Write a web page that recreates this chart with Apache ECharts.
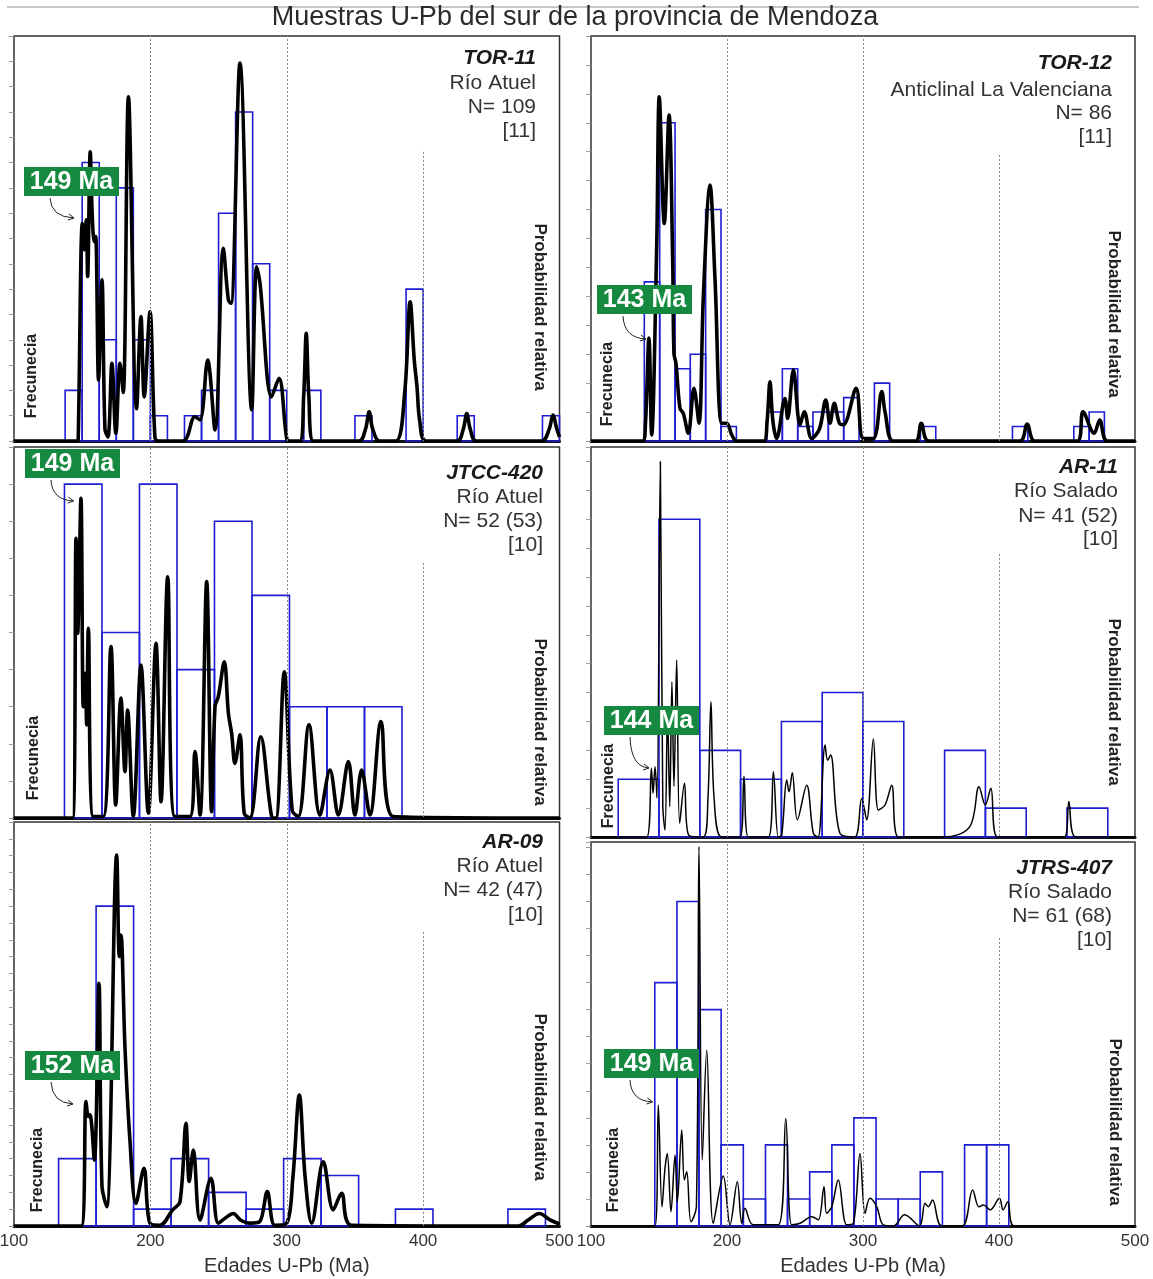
<!DOCTYPE html>
<html><head><meta charset="utf-8">
<script src="https://cdn.jsdelivr.net/npm/echarts@6/dist/echarts.min.js"></script>
<style>html,body{margin:0;padding:0;background:#fff}#c{width:1153px;height:1279px}</style>
</head><body><div id="c"></div>
<script>
// ---------------- DATA ----------------
const chartTitle = 'Muestras U-Pb del sur de la provincia de Mendoza';
const xAxisName = 'Edades U-Pb (Ma)';
const xTicks = [100, 200, 300, 400, 500];
const sampleNames = ['TOR-11', 'TOR-12', 'JTCC-420', 'AR-11', 'AR-09', 'JTRS-407'];
const localities = ['Río Atuel', 'Anticlinal La Valenciana', 'Río Atuel', 'Río Salado', 'Río Atuel', 'Río Salado'];
const nLabels = ['N= 109', 'N= 86', 'N= 52 (53)', 'N= 41 (52)', 'N= 42 (47)', 'N= 61 (68)'];
const refLabels = ['[11]', '[11]', '[10]', '[10]', '[10]', '[10]'];
const peakLabels = ['149 Ma', '143 Ma', '149 Ma', '144 Ma', '152 Ma', '149 Ma'];
const freqLabel = 'Frecunecia';
const probLabel = 'Probabilidad relativa';

// histogram bins: [from Ma, to Ma, count]
const tor11Bins = [[137.5,150,2],[150,162.5,11],[162.5,175,4],[175,187.5,10],[187.5,200,4],[200,212.5,1],[225,237.5,1],[237.5,250,2],[250,262.5,9],[262.5,275,13],[275,287.5,7],[287.5,300,2],[312.5,325,2],[350,362.5,1],[387.5,400,6],[425,437.5,1],[487.5,500,1]];
const tor12Bins = [[139.2,150.5,11],[150.5,161.8,22],[161.8,173.0,5],[173.0,184.3,6],[184.3,195.6,16],[195.6,206.9,1],[229.4,240.7,2],[240.7,252.0,5],[252.0,263.2,1],[263.2,274.5,2],[274.5,285.8,2],[285.8,297.1,3],[308.4,319.6,4],[342.2,353.5,1],[409.9,421.2,1],[455.0,466.3,1],[466.3,477.5,2]];
const jtcc420Bins = [[137,164.5,9],[164.5,192,5],[192,219.5,9],[219.5,247,4],[247,274.5,8],[274.5,302,6],[302,329.5,3],[329.5,357,3],[357,384.5,3]];
const ar11Bins = [[120,150,2],[150,180,11],[180,210,3],[210,240,2],[240,270,4],[270,300,5],[300,330,4],[360,390,3],[390,420,1],[450,480,1]];
const ar09Bins = [[132.7,160.2,4],[160.2,187.7,19],[187.7,215.2,1],[215.2,242.7,4],[242.7,270.2,2],[270.2,297.7,1],[297.7,325.2,4],[325.2,352.7,3],[379.7,407.2,1],[462.2,489.7,1]];
const jtrs407Bins = [[146.9,163.2,9],[163.2,179.4,12],[179.4,195.7,8],[195.7,212.0,3],[212.0,228.3,1],[228.3,244.5,3],[244.5,260.8,1],[260.8,277.1,2],[277.1,293.3,3],[293.3,309.6,4],[309.6,325.9,1],[325.9,342.1,1],[342.1,358.4,2],[374.7,390.9,3],[390.9,407.2,3]];

// probability curves: [Ma, relative probability %]
const tor11Curve = [[100,0],[146.5,0],[147.1,0.7],[150.1,53.7],[151.5,47.2],[153.0,54.6],[154.0,40.6],[155.9,71.4],[157.4,55.4],[158.9,49.2],[159.9,50.5],[162.0,15.1],[164.5,39.8],[166.7,3],[168.9,1],[171.8,19.2],[174.7,1.9],[177.7,19.2],[180.1,12],[183.9,85.0],[189.9,8],[193.1,30.7],[195.5,10.9],[199.7,31.9],[203.4,0.7],[206,0],
[224,0],[232.7,6.0],[236.4,5.2],[242.0,20.0],[247.4,2.7],[253.5,47.6],[257.2,34.8],[259.1,34.0],[265.7,93.3],[274.3,7.7],[277.9,43.0],[280.4,38.9],[288.9,10.9],[294.3,15.5],[299.9,0.7],[302,0],
[309.5,0],[312.4,11],[314.3,26.6],[316.2,11],[319.5,0],
[353,0],[357.8,3],[360.4,7.2],[363,3],[368,0],
[380,0],[386.5,12],[390.5,34.4],[393.5,20],[395.5,13.4],[397.5,5],[402,0],
[425,0],[429.5,3],[432,6.8],[434.5,3],[439,0],
[487,0],[492.5,3],[495.2,6.4],[498,3],[500,1]];
const tor12Curve = [[100,0],[138,0],[140,4],[142.6,25.4],[144.6,1.5],[148.3,47.9],[150.2,85.0],[153.9,53.7],[157.4,80.5],[160.1,43.9],[161.0,21.6],[162.5,19.1],[165.4,8.1],[167.9,6.8],[171.5,1.9],[175.7,13.0],[179.4,4.4],[182.6,35.6],[187.5,63.2],[191.2,39.8],[196.1,4.4],[199.8,4.4],[203.5,1.5],[207.1,0],
[227,0],[229.5,5],[231.6,14.6],[233.7,5],[236.5,0.6],[242.6,10.5],[244.6,5.6],[248.8,17.5],[253.7,4.0],[256.8,7.2],[262.3,0.6],[268,3],[272.6,10.1],[275.7,4.4],[278.9,9.3],[282.6,4.4],[285.5,4.0],[294.9,13.0],[300.2,0.6],[307.6,0.6],[313.8,12.2],[316.2,7.2],[322.3,0],
[338.7,0],[342.9,4.4],[348.3,0],
[415.3,0],[420.7,4.2],[426.3,0],
[457.6,0],[461.8,7.2],[470,1.9],[474,5.2],[479.6,0],[500,0]];
const jtcc420Curve = [[100,0],[143,0],[145.5,75.4],[146.7,49.8],[149.1,86.2],[150.8,30.0],[152.1,39.0],[153.3,25.1],[154.5,51.1],[158.1,0.4],
[165.5,0.4],[171.1,46.2],[174.6,3.5],[178.4,32.3],[181.4,12.5],[183.3,29.1],[187.5,0.4],[193.1,41.2],[198.5,1.3],[204.1,47.1],[207.8,4.4],[212.7,65.0],[218.0,0.4],
[229.0,0.4],[232.7,17.9],[236.4,0.8],[241.3,63.7],[244.9,1.7],[247.4,30.0],[249.8,32.7],[254.2,42.1],[257.2,28.2],[259.6,22.8],[262.0,14.7],[265.7,22.4],[268.8,1.3],
[273,0],[280.9,21.9],[288.9,0.4],[292,0],[298.2,39.4],[304,2],[308.5,0.4],[316.3,25.1],[324.3,0.8],[331.7,12.9],[337.8,0.8],[345.2,15.2],[350.0,0.8],[354.9,12.9],[361.0,0.8],[369.1,26.0],[378.1,0.4],[500,0]];
const ar11Curve = [[100,0],[141,0],[144.4,17.6],[145.6,11.2],[147.1,18.0],[148.5,10],[151.0,96.2],[152.8,8],[154.4,1.8],[156.3,31.7],[157.9,7.8],[159.5,39.8],[161.0,13],[163.0,45.4],[165.2,3.5],[168.7,13.8],[171.8,0.5],
[182.6,0],[186,10],[188.2,34.7],[190.5,10],[196.1,0],
[209.6,0],[212.5,15.6],[215.7,0],
[230.4,0],[234.1,16.7],[237.7,0],
[240.2,0.5],[243.9,14.6],[245.6,11.6],[248.0,16.5],[251.7,4.4],[258.6,13.3],[263.5,0.9],
[267,0],[272.1,23.6],[274.0,19.7],[276.2,21.0],[283.1,0.9],
[294,0],[299.0,9.9],[302.7,4.4],[307.6,25.1],[311.3,6.9],[316.2,8.2],[321.1,13.3],[326,0],
[359.3,0],[378.4,2.6],[385.3,12.9],[389.9,8.2],[394,12.5],[398.9,0],
[448.1,0],[451.4,9.1],[456.3,0],[500,0]];
const ar09Curve = [[100,0],[149.4,0],[152.8,30.8],[154.5,27.1],[155.7,27.5],[158.9,16.3],[162.3,60.1],[164.5,10],[168.0,4.8],[175.3,91.8],[177.2,66.7],[178.4,72.0],[181.4,44.0],[185.0,21.3],[189.4,5.6],[195.3,14.3],[199.7,0.7],[207.0,0.2],[216.3,4.0],[221.7,6.0],[226.1,25.4],[228.5,11.0],[231.5,18.8],[236.4,1.5],[244.4,11.8],[249.8,0.7],[255,2],[260.8,3.1],[266,1.5],[273.0,0.7],[280,1],[285.7,8.5],[291.3,0.2],[299.9,0.7],[304.5,12],[309.2,32.4],[313.5,12],[318.3,0.7],[326.8,15.9],[334.1,4.0],[340.2,8.1],[347.6,0.2],[470,0],[477,1.5],[485.3,3.1],[493,1.5],[500,0.5]];
const jtrs407Curve = [[100,0],[147.1,0],[149.5,31.5],[152.2,5.0],[154.4,15.0],[156.1,18.9],[158.8,3.7],[161.8,18.5],[163.5,6.3],[166.7,25.0],[168.6,12.0],[170.4,14.1],[173.5,1.1],[177.5,5],[179.4,98.8],[181.8,17.2],[185.1,45.8],[189.9,0.7],[197.3,13.0],[202.2,0.3],[207.6,11.5],[210.8,0.7],[213.2,4.6],[219.3,0.3],[237.7,0.3],[243.2,28.0],[247.6,0.3],[253.7,0.7],[262.3,2.4],[267.1,1.6],[271.3,10.2],[273.3,3.3],[277,5],[281.8,12.0],[288.0,0.3],[292.9,0.7],[297.8,18.9],[301.5,3.3],[305.1,7.2],[310.1,5.0],[314.9,0.3],[322.4,0],[330.6,2.9],[341.5,0],[345.6,5.9],[348,5],[351.1,6.8],[357.9,0],[372.9,0],[380.6,9.4],[385.2,5.0],[388.5,5.5],[393.5,4.2],[400.3,7.2],[403.0,4.2],[406.5,6.3],[411.2,0],[500,0]];

const allBins = [tor11Bins, tor12Bins, jtcc420Bins, ar11Bins, ar09Bins, jtrs407Bins];
const allCurves = [tor11Curve, tor12Curve, jtcc420Curve, ar11Curve, ar09Curve, jtrs407Curve];

// ---------------- LAYOUT / STYLE ----------------
const FONT = '"Liberation Sans", Arial, Helvetica, sans-serif';
const layouts = [
 {left:14, top:36, width:545.5, height:405, ymax:16, yint:1, lw:3.6, g400:71.4, textRight:536, textY:[58,83,107,131], box:[24,167], arrow:[50,22], frec:[32,376], prob:[540,307], bottom:false},
 {left:591, top:36, width:544, height:405, ymax:28, yint:2, lw:3.6, g400:70.6, textRight:1112, textY:[63,90,113,137], box:[597,285], arrow:[49,25], frec:[607.5,384], prob:[1114,314], bottom:false},
 {left:14, top:447, width:545.5, height:371, ymax:10, yint:1, lw:3.6, g400:68.7, textRight:543, textY:[473,497,521,545], box:[25,449], arrow:[48.5,23], frec:[34,758], prob:[540,722], bottom:false},
 {left:591, top:447, width:544, height:390, ymax:13.5, yint:1, lw:1.5, g400:72.6, textRight:1118, textY:[467,491,516,539], box:[604,706], arrow:[45,33], frec:[609,786], prob:[1114,702], bottom:false},
 {left:14, top:822, width:545.5, height:404, ymax:24, yint:1, lw:3.6, g400:72.8, textRight:543, textY:[842,866,890,915], box:[25,1051], arrow:[48,24], frec:[37.5,1170], prob:[540,1097], bottom:true},
 {left:591, top:842, width:544, height:384, ymax:14.2, yint:1, lw:1.5, g400:75, textRight:1112, textY:[868,892,916,940], box:[604,1049], arrow:[48.5,24], frec:[613.5,1170], prob:[1115,1122], bottom:true}
];

function renderBin(params, api) {
  const a = api.coord([api.value(0), api.value(2)]);
  const b = api.coord([api.value(1), 0]);
  return {type:'rect', shape:{x:a[0], y:a[1], width:b[0]-a[0], height:b[1]-a[1]},
          style:{fill:'none', stroke:'#1d1dd2', lineWidth:1.6}};
}

const grids = [], xAxes = [], yAxes = [], series = [], graphics = [];

graphics.push({type:'line', z:100, shape:{x1:7, y1:7, x2:1139, y2:7}, style:{stroke:'#b5b5b5', lineWidth:1.5}});
graphics.push({type:'text', z:100, x:575, y:18, style:{text:chartTitle, font:'27px ' + FONT, fill:'#2a2a2a', align:'center', verticalAlign:'middle', textAlign:'center', textVerticalAlign:'middle'}});

layouts.forEach((L, i) => {
  grids.push({left:L.left, top:L.top, width:L.width, height:L.height, show:true, borderColor:'#333', borderWidth:1.5,
    backgroundColor:'transparent', containLabel:false, outerBoundsMode:'none'});
  xAxes.push({gridIndex:i, type:'value', min:xTicks[0], max:xTicks[xTicks.length-1], interval:100,
    axisLine:{show:true, onZero:false, lineStyle:{color:'#111', width:3}},
    axisTick:{show:false}, splitLine:{show:false},
    axisLabel:{show:L.bottom, fontSize:17, color:'#333', margin:7, fontFamily:FONT},
    name: L.bottom ? xAxisName : '', nameLocation:'middle', nameGap:30,
    nameTextStyle:{fontSize:20, color:'#333', fontFamily:FONT}});
  yAxes.push({gridIndex:i, type:'value', min:0, max:L.ymax, interval:L.yint, position:'left',
    axisLine:{show:false}, axisLabel:{show:false}, splitLine:{show:false},
    axisTick:{show:true, length:5, lineStyle:{color:'#999', width:1}}});
  yAxes.push({gridIndex:i, type:'value', min:0, max:100, position:'right', show:false});

  // dotted reference lines
  series.push({type:'line', xAxisIndex:i, yAxisIndex:2*i+1, data:[], silent:true, z:1,
    markLine:{symbol:['none','none'], silent:true, label:{show:false}, animation:false,
      lineStyle:{type:[2,2], color:'#8a8a8a', width:1},
      data:[[{coord:[200,0]},{coord:[200,100]}],[{coord:[300,0]},{coord:[300,100]}],[{coord:[400,L.g400]},{coord:[400,0]}]]}});
  // histogram
  series.push({type:'custom', xAxisIndex:i, yAxisIndex:2*i, renderItem:renderBin, encode:{x:[0,1], y:2},
    data:allBins[i], z:2, silent:true});
  // probability curve
  series.push({type:'line', xAxisIndex:i, yAxisIndex:2*i+1, data:allCurves[i], smooth:0.35, showSymbol:false,
    lineStyle:{color:'#000', width:L.lw}, z:3, silent:true, clip:true});

  // panel texts
  const tx = [sampleNames[i], localities[i], nLabels[i], refLabels[i]];
  tx.forEach((t, k) => {
    graphics.push({type:'text', z:100, x:L.textRight, y:L.textY[k], style:{text:t,
      font:(k === 0 ? 'italic bold ' : '') + '21px ' + FONT, fill:(k===0?'#1a1a1a':'#333'),
      align:'right', verticalAlign:'middle', textAlign:'right', textVerticalAlign:'middle'}});
  });
  graphics.push({type:'text', z:100, x:L.frec[0], y:L.frec[1], rotation:Math.PI/2, style:{text:freqLabel,
    font:'bold 16px ' + FONT, fill:'#222', align:'center', verticalAlign:'middle', textAlign:'center', textVerticalAlign:'middle'}});
  graphics.push({type:'text', z:100, x:L.prob[0], y:L.prob[1], rotation:-Math.PI/2, style:{text:probLabel,
    font:'bold 17px ' + FONT, fill:'#222', align:'center', verticalAlign:'middle', textAlign:'center', textVerticalAlign:'middle'}});

  // green age label with arrow
  const bx = L.box[0], by = L.box[1], bw = 95, bh = 29;
  graphics.push({type:'rect', z:100, shape:{x:bx, y:by, width:bw, height:bh}, style:{fill:'#15893f'}});
  graphics.push({type:'text', z:101, x:bx + bw/2, y:by + bh/2 + 1, style:{text:peakLabels[i], font:'bold 25px ' + FONT,
    fill:'#fff', align:'center', verticalAlign:'middle', textAlign:'center', textVerticalAlign:'middle'}});
  const sx = bx + 26, sy = by + bh + 2, ex = bx + L.arrow[0], ey = by + bh + L.arrow[1];
  graphics.push({type:'bezierCurve', z:100, shape:{x1:sx, y1:sy, x2:ex, y2:ey, cpx1:sx + 1, cpy1:ey - 1},
    style:{stroke:'#222', lineWidth:1, fill:null}});
  graphics.push({type:'polyline', z:100, shape:{points:[[ex-5, ey-4],[ex, ey],[ex-6, ey+2]]},
    style:{stroke:'#222', lineWidth:1, fill:null}});
});

const chart = echarts.init(document.getElementById('c'), null, {renderer:'canvas'});
chart.setOption({
  animation:false,
  backgroundColor:'#fff',
  textStyle:{fontFamily:FONT},
  grid:grids, xAxis:xAxes, yAxis:yAxes, series:series, graphic:graphics
});
</script>
</body></html>
